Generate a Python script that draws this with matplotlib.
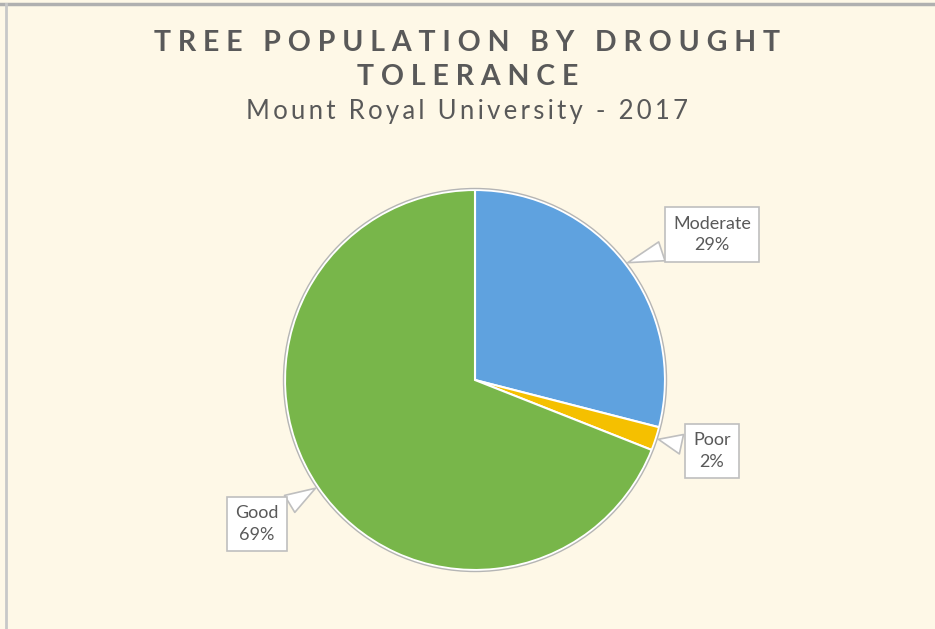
import numpy as np
import matplotlib.pyplot as plt
from matplotlib.lines import Line2D

# data
labels = ["Moderate", "Poor", "Good"]
values = [29, 2, 69]
colors = ["#5FA2DF", "#F5C000", "#78B64A"]

bg = "#FEF8E7"
txt = "#595959"

fig = plt.figure(figsize=(9.35, 6.29), dpi=100, facecolor=bg)
ax = fig.add_axes([0, 0, 1, 1])
ax.set_facecolor(bg)

cx, cy, R = 475, 249, 190
wedges, _ = ax.pie(values, colors=colors, startangle=90, counterclock=False,
                   center=(cx, cy), radius=R, frame=True,
                   wedgeprops=dict(edgecolor="white", linewidth=1.5))
ax.set_xlim(0, 935)
ax.set_ylim(0, 629)
ax.set_aspect("equal")
ax.axis("off")
# thin grey rim
circ = plt.Circle((cx, cy), R + 1.5, fill=False, ec="#B5B5B5", lw=1.0)
ax.add_patch(circ)

# label offsets (text box centre relative to wedge mid-point)
offsets = [(87, 29), (56, -12), (-61, -37)]
for w, lab, v, (ox, oy) in zip(wedges, labels, values, offsets):
    ang = np.deg2rad((w.theta1 + w.theta2) / 2)
    px = cx + R * np.cos(ang)
    py = cy + R * np.sin(ang)
    ax.annotate(f"{lab}\n{v}%", xy=(px, py), xytext=(px + ox, py + oy),
                ha="center", va="center", fontsize=13, color=txt,
                family="Lato", linespacing=1.45,
                bbox=dict(boxstyle="square,pad=0.45", fc="white", ec="#BFBFBF", lw=1.2),
                arrowprops=dict(arrowstyle="wedge,tail_width=1.1,shrink_factor=0.5",
                                fc="white", ec="#BFBFBF", lw=1.2))

title1 = "TREE POPULATION BY DROUGHT"
title2 = "TOLERANCE"
def spaced(s):
    return "   ".join(" ".join(word) for word in s.split(" "))

fig.text(0.5, 1 - 43 / 629, spaced(title1), ha="center", va="center",
         fontsize=20.5, fontweight="bold", color=txt, family="Lato")
fig.text(0.5, 1 - 77 / 629, spaced(title2), ha="center", va="center",
         fontsize=20.5, fontweight="bold", color=txt, family="Lato")
fig.text(0.5, 1 - 111 / 629, "\u2009".join("Mount Royal University - 2017"),
         ha="center", va="center", fontsize=18.5, color=txt,
         family=["Lato", "DejaVu Sans"])

# frame lines on top and left
fig.add_artist(Line2D([0, 1], [1 - 4 / 629, 1 - 4 / 629], color="#B0B0B0", lw=2.5,
                      transform=fig.transFigure))
fig.add_artist(Line2D([6 / 935, 6 / 935], [0, 1 - 4 / 629], color="#C8C8C8", lw=2,
                      transform=fig.transFigure))

fig.savefig("out.png", dpi=100, facecolor=bg)
